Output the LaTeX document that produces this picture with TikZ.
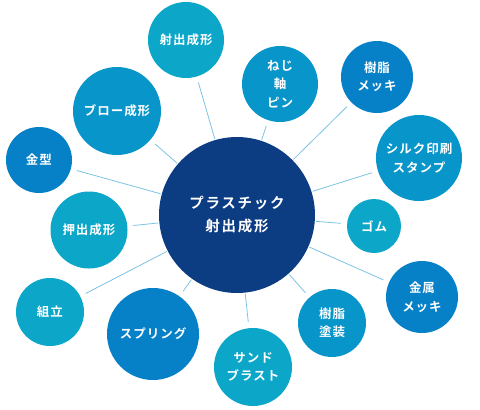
\documentclass[tikz,border=0pt]{standalone}
\usepackage{fontspec}
\newfontfamily\jpfont[LetterSpace=8,BoldFont={* Bold}]{Noto Sans CJK JP}
\newfontfamily\jpbig[LetterSpace=12,BoldFont={* Bold}]{Noto Sans CJK JP}
\definecolor{navy}{HTML}{0C3C82}
\definecolor{cyanA}{HTML}{0BA6C8}
\definecolor{blueB}{HTML}{0895C9}
\definecolor{blueC}{HTML}{0680C6}
\definecolor{linec}{HTML}{7CC3E3}
\begin{document}
\begin{tikzpicture}[x=1pt,y=-1pt,
  sat/.style={circle,inner sep=0pt,text=white,align=center,
    font=\jpfont\fontsize{12.5}{18.5}\selectfont\bfseries},
  link/.style={draw=linec,line width=0.8pt,shorten <=1pt,shorten >=6pt}]
\useasboundingbox (0,0) rectangle (480,410);
\node[circle,fill=navy,minimum size=156pt,inner sep=0pt,text=white,align=center,
  font=\jpbig\fontsize{14.5}{23}\selectfont\bfseries] (c) at (237,215) {プラスチック\\射出成形};
\node[sat,fill=cyanA,minimum size=76pt] (s1) at (186,40) {射出成形};
\node[sat,fill=blueB,minimum size=76pt] (s2) at (280,84) {ねじ\\軸\\ピン};
\node[sat,fill=blueC,minimum size=72pt] (s3) at (377,77) {樹脂\\メッキ};
\node[sat,fill=blueB,minimum size=86pt] (s4) at (419,158) {シルク印刷\\スタンプ};
\node[sat,fill=cyanA,minimum size=54pt] (s5) at (374,226) {ゴム};
\node[sat,fill=blueC,minimum size=72pt] (s6) at (422,297) {金属\\メッキ};
\node[sat,fill=blueB,minimum size=68pt] (s7) at (332,323) {樹脂\\塗装};
\node[sat,fill=cyanA,minimum size=78pt] (s8) at (253,367) {サンド\\ブラスト};
\node[sat,fill=blueC,minimum size=92pt] (s9) at (153,334) {スプリング};
\node[sat,fill=cyanA,minimum size=68pt] (s10) at (50,312) {組立};
\node[sat,fill=cyanA,minimum size=77pt] (s11) at (89,230) {押出成形};
\node[sat,fill=blueC,minimum size=66pt] (s12) at (39,160) {金型};
\node[sat,fill=blueB,minimum size=88pt] (s13) at (117,111) {ブロー成形};
\foreach \s in {s1,s2,s3,s4,s5,s6,s7,s8,s9,s10,s11,s12,s13}
  \draw[link] (c) -- (\s);
\end{tikzpicture}
\end{document}
